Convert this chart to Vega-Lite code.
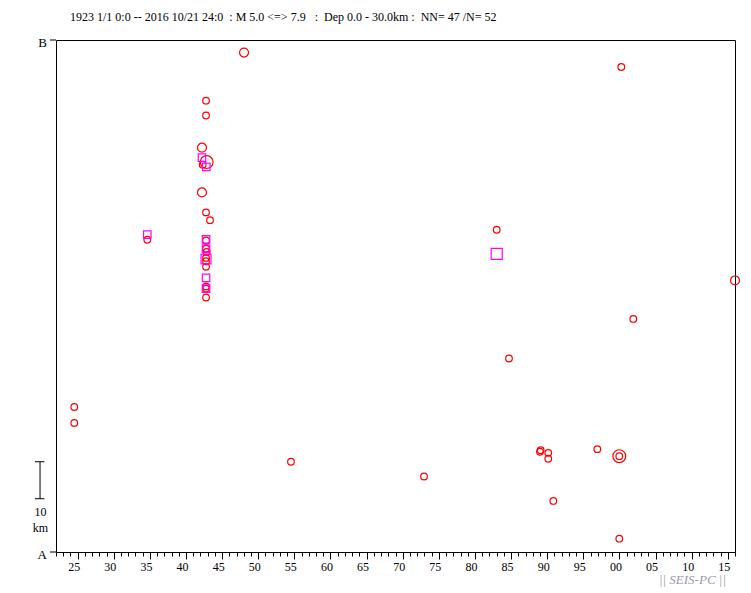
{
  "$schema": "https://vega.github.io/schema/vega-lite/v6.json",
  "width": 679,
  "height": 512,
  "autosize": {"type": "none"},
  "padding": {"left": 56, "top": 40, "right": 16, "bottom": 41},
  "background": "white",
  "config": {
    "view": {"stroke": "black", "strokeWidth": 1},
    "axis": {"grid": false, "domain": false, "tickColor": "black", "tickWidth": 1, "labelColor": "black", "labelFont": "Liberation Serif", "labelFontSize": 12, "title": null}
  },
  "title": {
    "text": "1923 1/1 0:0 -- 2016 10/21 24:0\u00a0 : M 5.0 <=> 7.9\u00a0\u00a0 :\u00a0 Dep 0.0 - 30.0km :\u00a0 NN= 47 /N= 52",
    "anchor": "start", "frame": "group", "dx": 14, "offset": 4, "baseline": "alphabetic",
    "font": "Liberation Serif", "fontSize": 12, "fontWeight": "normal", "color": "black"
  },
  "datasets": {
    "events": [
      {"year": 1948.03, "km": 135.0, "mag": 5.6, "type": "circle"},
      {"year": 1942.77, "km": 122.0, "mag": 5.0, "type": "circle"},
      {"year": 1942.77, "km": 118.0, "mag": 5.0, "type": "circle"},
      {"year": 1942.21, "km": 109.3, "mag": 5.6, "type": "circle"},
      {"year": 1942.86, "km": 105.4, "mag": 7.0, "type": "circle"},
      {"year": 1942.31, "km": 104.7, "mag": 5.0, "type": "circle"},
      {"year": 1942.21, "km": 97.2, "mag": 5.6, "type": "circle"},
      {"year": 1942.77, "km": 91.8, "mag": 5.0, "type": "circle"},
      {"year": 1943.32, "km": 89.7, "mag": 5.0, "type": "circle"},
      {"year": 1934.64, "km": 84.4, "mag": 5.0, "type": "circle"},
      {"year": 1942.77, "km": 84.2, "mag": 5.0, "type": "circle"},
      {"year": 1942.77, "km": 82.0, "mag": 5.0, "type": "circle"},
      {"year": 1942.86, "km": 81.1, "mag": 5.0, "type": "circle"},
      {"year": 1942.77, "km": 79.5, "mag": 5.0, "type": "circle"},
      {"year": 1942.77, "km": 78.6, "mag": 5.0, "type": "circle"},
      {"year": 1942.77, "km": 77.1, "mag": 5.0, "type": "circle"},
      {"year": 1942.77, "km": 71.8, "mag": 5.0, "type": "circle"},
      {"year": 1942.77, "km": 71.2, "mag": 5.0, "type": "circle"},
      {"year": 1942.77, "km": 68.8, "mag": 5.0, "type": "circle"},
      {"year": 1924.53, "km": 39.2, "mag": 5.0, "type": "circle"},
      {"year": 1924.53, "km": 34.9, "mag": 5.0, "type": "circle"},
      {"year": 1954.53, "km": 24.4, "mag": 5.0, "type": "circle"},
      {"year": 1972.95, "km": 20.4, "mag": 5.0, "type": "circle"},
      {"year": 1983.01, "km": 87.1, "mag": 5.0, "type": "circle"},
      {"year": 1984.71, "km": 52.3, "mag": 5.0, "type": "circle"},
      {"year": 1989.0, "km": 27.1, "mag": 5.0, "type": "circle"},
      {"year": 1989.1, "km": 27.5, "mag": 5.0, "type": "circle"},
      {"year": 1990.15, "km": 26.8, "mag": 5.0, "type": "circle"},
      {"year": 1990.15, "km": 25.2, "mag": 5.0, "type": "circle"},
      {"year": 1990.85, "km": 13.8, "mag": 5.0, "type": "circle"},
      {"year": 1996.94, "km": 27.8, "mag": 5.0, "type": "circle"},
      {"year": 1999.98, "km": 25.9, "mag": 7.0, "type": "circle"},
      {"year": 1999.98, "km": 25.9, "mag": 5.0, "type": "circle"},
      {"year": 1999.98, "km": 3.6, "mag": 5.0, "type": "circle"},
      {"year": 2000.26, "km": 131.1, "mag": 5.0, "type": "circle"},
      {"year": 2001.92, "km": 63.0, "mag": 5.0, "type": "circle"},
      {"year": 2016.0, "km": 73.4, "mag": 5.6, "type": "circle"},
      {"year": 1942.21, "km": 106.6, "mag": 5.2, "type": "square"},
      {"year": 1942.81, "km": 104.1, "mag": 5.2, "type": "square"},
      {"year": 1934.64, "km": 85.8, "mag": 5.2, "type": "square"},
      {"year": 1942.77, "km": 84.5, "mag": 5.2, "type": "square"},
      {"year": 1942.77, "km": 82.0, "mag": 5.2, "type": "square"},
      {"year": 1942.77, "km": 79.2, "mag": 5.9, "type": "square"},
      {"year": 1942.77, "km": 74.1, "mag": 5.2, "type": "square"},
      {"year": 1942.77, "km": 71.2, "mag": 5.2, "type": "square"},
      {"year": 1983.01, "km": 80.6, "mag": 6.3, "type": "square"}
    ],
    "scalebar": [
      {"x": 1919.79, "x2": 1919.79, "y": 14.4, "y2": 24.4},
      {"x": 1919.09, "x2": 1920.4, "y": 24.4, "y2": 24.4},
      {"x": 1919.09, "x2": 1920.4, "y": 14.4, "y2": 14.4},
      {"x": 1921.17, "x2": 1922, "y": 0, "y2": 0},
      {"x": 1921.17, "x2": 1922, "y": 138.4, "y2": 138.4}
    ],
    "notes": [
      {"x": 1919.86, "y": 10.9, "label": "10"},
      {"x": 1919.86, "y": 6.6, "label": "km"}
    ],
    "ends": [
      {"x": 1920.75, "y": 0, "label": "A"},
      {"x": 1920.75, "y": 138.4, "label": "B"}
    ],
    "credit": [
      {"x": 2014.75, "y": -7.6, "label": "|| SEIS-PC ||"}
    ]
  },
  "layer": [
    {
      "data": {"name": "events"},
      "mark": {"type": "point", "filled": false, "strokeWidth": 1.2, "opacity": 1},
      "encoding": {
        "x": {"field": "year", "type": "quantitative", "scale": {"domain": [1922, 2016], "nice": false, "zero": false},
          "axis": {"orient": "bottom", "values": [1925,1930,1935,1940,1945,1950,1955,1960,1965,1970,1975,1980,1985,1990,1995,2000,2005,2010,2015], "format": "d", "labelExpr": "slice(datum.label, 2)", "tickSize": 7, "labelPadding": 2, "labelOffset": -4, "domain": false}},
        "y": {"field": "km", "type": "quantitative", "scale": {"domain": [0, 138.4], "nice": false, "zero": false}, "axis": null},
        "shape": {"field": "type", "type": "nominal", "scale": {"domain": ["circle", "square"], "range": ["circle", "square"]}, "legend": null},
        "color": {"field": "type", "type": "nominal", "scale": {"domain": ["circle", "square"], "range": ["#ff0000", "#ff00ff"]}, "legend": null},
        "size": {"field": "mag", "type": "quantitative", "scale": {"type": "linear", "domain": [5, 7], "range": [44, 165], "zero": false}, "legend": null}
      }
    },
    {
      "data": {"name": "scalebar"},
      "mark": {"type": "rule", "color": "black", "strokeWidth": 1, "clip": false},
      "encoding": {
        "x": {"field": "x", "type": "quantitative", "scale": {"domain": [1922, 2016], "nice": false, "zero": false},
          "axis": {"orient": "bottom", "values": [1922,1923,1924,1925,1926,1927,1928,1929,1930,1931,1932,1933,1934,1935,1936,1937,1938,1939,1940,1941,1942,1943,1944,1945,1946,1947,1948,1949,1950,1951,1952,1953,1954,1955,1956,1957,1958,1959,1960,1961,1962,1963,1964,1965,1966,1967,1968,1969,1970,1971,1972,1973,1974,1975,1976,1977,1978,1979,1980,1981,1982,1983,1984,1985,1986,1987,1988,1989,1990,1991,1992,1993,1994,1995,1996,1997,1998,1999,2000,2001,2002,2003,2004,2005,2006,2007,2008,2009,2010,2011,2012,2013,2014,2015,2016], "labels": false, "tickSize": 4, "domain": false}},
        "x2": {"field": "x2"},
        "y": {"field": "y", "type": "quantitative", "scale": {"domain": [0, 138.4], "nice": false, "zero": false}, "axis": null},
        "y2": {"field": "y2"}
      }
    },
    {
      "data": {"name": "notes"},
      "mark": {"type": "text", "font": "Liberation Serif", "fontSize": 12, "color": "black", "align": "center", "baseline": "middle", "clip": false},
      "encoding": {
        "x": {"field": "x", "type": "quantitative", "scale": {"domain": [1922, 2016], "nice": false, "zero": false}, "axis": null},
        "y": {"field": "y", "type": "quantitative", "scale": {"domain": [0, 138.4], "nice": false, "zero": false}, "axis": null},
        "text": {"field": "label"}
      }
    },
    {
      "data": {"name": "ends"},
      "mark": {"type": "text", "font": "Liberation Serif", "fontSize": 13, "color": "black", "align": "right", "baseline": "middle", "dy": 3, "clip": false},
      "encoding": {
        "x": {"field": "x", "type": "quantitative", "scale": {"domain": [1922, 2016], "nice": false, "zero": false}, "axis": null},
        "y": {"field": "y", "type": "quantitative", "scale": {"domain": [0, 138.4], "nice": false, "zero": false}, "axis": null},
        "text": {"field": "label"}
      }
    },
    {
      "data": {"name": "credit"},
      "mark": {"type": "text", "font": "Liberation Serif", "fontSize": 13, "fontStyle": "italic", "color": "#9a9aa6", "align": "right", "baseline": "middle", "clip": false},
      "encoding": {
        "x": {"field": "x", "type": "quantitative", "scale": {"domain": [1922, 2016], "nice": false, "zero": false}, "axis": null},
        "y": {"field": "y", "type": "quantitative", "scale": {"domain": [0, 138.4], "nice": false, "zero": false}, "axis": null},
        "text": {"field": "label"}
      }
    }
  ],
  "resolve": {"axis": {"x": "independent"}}
}
